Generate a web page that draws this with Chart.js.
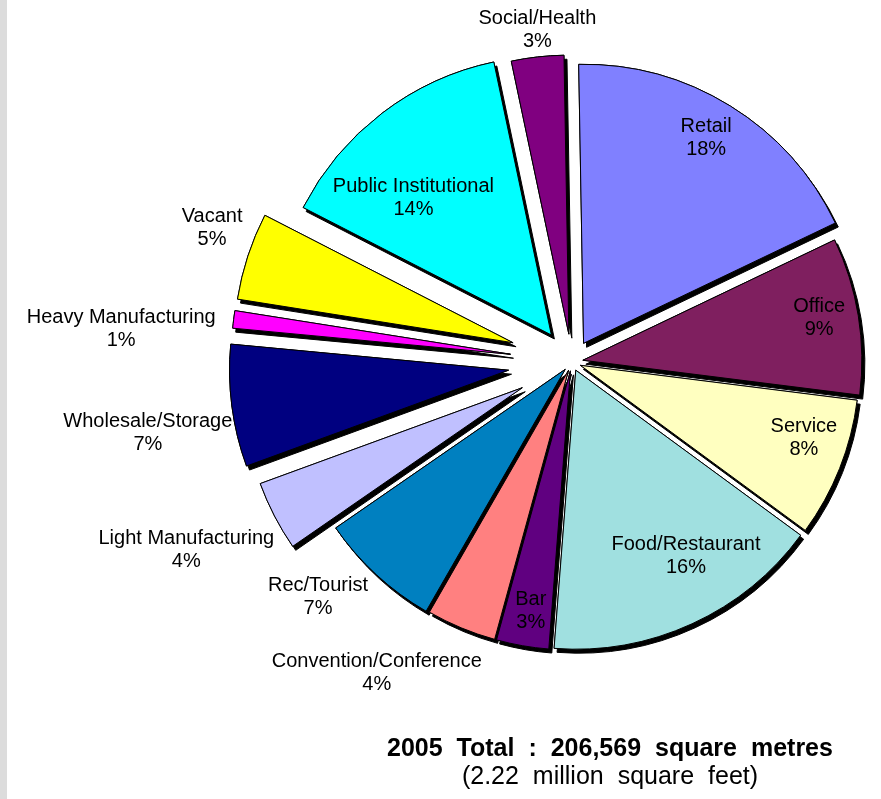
<!DOCTYPE html>
<html>
<head>
<meta charset="utf-8">
<script src="https://cdn.jsdelivr.net/npm/chart.js@4.4.1/dist/chart.umd.min.js"></script>
<style>
  html, body { margin: 0; padding: 0; background: #fff; }
  #wrap { position: relative; width: 881px; height: 799px; overflow: hidden; }
  #strip { position: absolute; left: 0; top: 0; width: 7px; height: 799px; background: #dcdcdc; }
  #chart { position: absolute; left: 0; top: 0; }
  #total {
    position: absolute; left: 340px; width: 540px; top: 733px;
    text-align: center; color: #000;
    font-family: "Liberation Sans", Arial, sans-serif;
  }
  #total .l1 { font-weight: bold; font-size: 25px; line-height: 28px; word-spacing: 7px; }
  #total .l2 { font-size: 25px; line-height: 28px; word-spacing: 7px; }
</style>
</head>
<body>
<div id="wrap">
  <div id="strip"></div>
  <canvas id="chart" width="881" height="799"></canvas>
  <div id="total">
    <div class="l1">2005 Total : 206,569 square metres</div>
    <div class="l2">(2.22 million square feet)</div>
  </div>
</div>
<script>
const categories = [
  "Retail", "Office", "Service", "Food/Restaurant", "Bar",
  "Convention/Conference", "Rec/Tourist", "Light Manufacturing",
  "Wholesale/Storage", "Heavy Manufacturing", "Vacant",
  "Public Institutional", "Social/Health"
];
const shares = [18, 9, 8, 16, 3, 4, 7, 4, 7, 1, 5, 14, 3];

const sliceColors = [
  "#8080ff", "#7f1f5f", "#ffffc0", "#a0e0e0", "#600080",
  "#ff8080", "#0080c0", "#c0c0ff", "#000080", "#ff00ff",
  "#ffff00", "#00ffff", "#800080"
];
// how far each slice is pulled out (px)
const explode = [22, 11, 9, 9, 9, 9, 10, 56, 64, 62, 62, 34, 28];
// label placement: angle tweak (deg) and distance from centre (px)
const labelShift = [-0.8, -0.9, -3.6, -5.8, -0.5, 9.5, 4.6, 1.4, -2.1, -3.0, 2.3, -6.7, 0.5];
const labelDist = [261, 251, 244, 225, 252, 367, 346, 429, 430, 452, 384, 228, 334];

const explodedSlices = {
  id: "explodedSlices",
  beforeDatasetsDraw(chart) {
    const ctx = chart.ctx;
    const arcs = chart.getDatasetMeta(0).data;

    const drawAll = () => {
      arcs.forEach((arc, i) => {
        const mid = (arc.startAngle + arc.endAngle) / 2;
        ctx.save();
        ctx.translate(Math.cos(mid) * explode[i], Math.sin(mid) * explode[i]);
        arc.draw(ctx);
        ctx.restore();
      });
    };

    // shadow pass, then the slices again on top
    ctx.save();
    ctx.shadowColor = "#000";
    ctx.shadowOffsetX = 3;
    ctx.shadowOffsetY = 4;
    ctx.shadowBlur = 0;
    drawAll();
    ctx.restore();
    drawAll();

    return false;
  },
  afterDraw(chart) {
    const ctx = chart.ctx;
    const arcs = chart.getDatasetMeta(0).data;
    ctx.save();
    ctx.font = '20px "Liberation Sans", Arial, sans-serif';
    ctx.fillStyle = "#000";
    ctx.textAlign = "center";
    ctx.textBaseline = "middle";
    arcs.forEach((arc, i) => {
      const a = (arc.startAngle + arc.endAngle) / 2 + labelShift[i] * Math.PI / 180;
      const x = arc.x + Math.cos(a) * labelDist[i];
      const y = arc.y + Math.sin(a) * labelDist[i];
      ctx.fillText(categories[i], x, y - 11.5);
      ctx.fillText(shares[i] + "%", x, y + 11.5);
    });
    ctx.restore();
  }
};

new Chart(document.getElementById("chart"), {
  type: "pie",
  data: {
    labels: categories,
    datasets: [
      {
        data: shares,
        backgroundColor: sliceColors,
        borderColor: "#000",
        borderWidth: 1,
        hoverOffset: 0,
      },
    ],
  },
  options: {
    responsive: false,
    animation: false,
    radius: 279,
    rotation: -1,
    layout: {
      padding: { left: 263, right: 0, top: 0, bottom: 75 },
    },
    plugins: {
      legend: { display: false },
      tooltip: { enabled: false },
    },
    events: [],
  },
  plugins: [explodedSlices],
});
</script>
</body>
</html>
